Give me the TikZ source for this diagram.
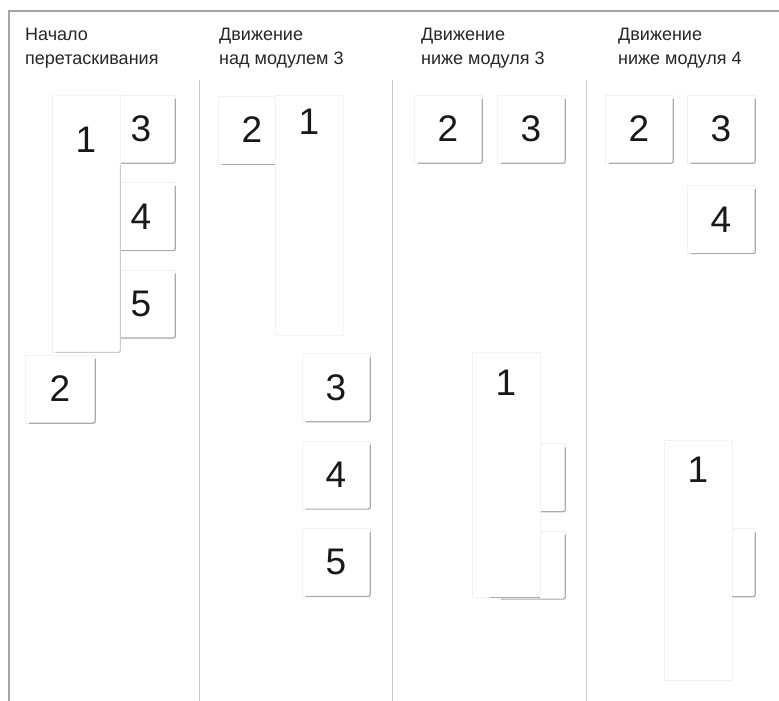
\documentclass[tikz,border=0pt]{standalone}
\usepackage{fontspec}
\setmainfont{Liberation Sans}
\usetikzlibrary{positioning}
\tikzset{
  schatten/.style = {draw=gray!65, line width=1.2pt, rounded corners=2pt},
  blass/.style    = {draw=gray!40, line width=1pt, rounded corners=2pt},
  modul/.style    = {draw=gray!10, fill=white, line width=0.4pt, inner sep=0pt,
                     minimum width=68pt, minimum height=68pt,
                     font=\fontsize{37}{40}\selectfont, text=black!90},
  zug/.style      = {draw=gray!15, densely dotted, fill=white, line width=0.6pt,
                     inner sep=0pt, minimum width=68pt},
  ziffer/.style   = {inner sep=0pt, font=\fontsize{37}{40}\selectfont, text=black!90},
  titel/.style    = {anchor=north west, align=left, inner sep=0pt,
                     font=\fontsize{18}{24}\selectfont, text=black!85},
  rahmen/.style   = {draw=gray!70, line width=1.8pt},
  trenn/.style    = {draw=gray!40, line width=0.8pt},
}
\begin{document}
\begin{tikzpicture}[x=1pt, y=-1pt, node distance=19pt]
  \useasboundingbox (0,0) rectangle (779,701);
  \draw[rahmen] (9,701) -- (9,11) -- (779,11);
  \foreach \x in {199,392,586} \draw[trenn] (\x,80) -- (\x,701);

  % titles
  \node[titel] (t1) at (25,28)  {Начало\\перетаскивания};
  \node[titel] (t2) at (219,28) {Движение\\над модулем 3};
  \node[titel] (t3) at (421,28) {Движение\\ниже модуля 3};
  \node[titel] (t4) at (618,28) {Движение\\ниже модуля 4};

  % column 1: drag starts
  \node[modul] (c1m3) at (141,129) {3};
  \node[modul, below=of c1m3] (c1m4) {4};
  \node[modul, below=of c1m4] (c1m5) {5};
  \foreach \m in {c1m3,c1m4,c1m5}
    \draw[schatten] ([xshift=4pt]\m.south west) -- (\m.south east) -- ([yshift=-4pt]\m.north east);
  \node[zug, minimum height=257pt] (c1m1) at (86,223.5) {};
  \draw[blass] ([xshift=4pt]c1m1.south west) -- (c1m1.south east) -- ([yshift=-70pt]c1m1.north east);
  \node[ziffer] (c1n1) at ([yshift=-45pt]c1m1.north) {1};
  \node[modul, minimum width=70pt] (c1m2) at (60,389) {2};
  \draw[schatten] ([xshift=4pt]c1m2.south west) -- (c1m2.south east) -- ([yshift=-4pt]c1m2.north east);

  % column 2: over module 3
  \node[modul] (c2m2) at (252,130) {2};
  \draw[schatten] ([xshift=4pt]c2m2.south west) -- (c2m2.south east);
  \node[zug, minimum height=240pt] (c2m1) at (309,215) {};
  \node[ziffer] (c2n1) at ([yshift=-27pt]c2m1.north) {1};
  \node[modul] (c2m3) at (336,387.5) {3};
  \node[modul, below=of c2m3] (c2m4) {4};
  \node[modul, below=of c2m4] (c2m5) {5};
  \foreach \m in {c2m3,c2m4,c2m5}
    \draw[schatten] ([xshift=4pt]\m.south west) -- (\m.south east) -- ([yshift=-4pt]\m.north east);

  % column 3: below module 3
  \node[modul] (c3m2) at (448,129) {2};
  \node[modul] (c3m3) at (531,129) {3};
  \node[modul] (c3m4) at (531,477.5) {4};
  \node[modul, below=of c3m4] (c3m5) {5};
  \foreach \m in {c3m2,c3m3,c3m4,c3m5}
    \draw[schatten] ([xshift=4pt]\m.south west) -- (\m.south east) -- ([yshift=-4pt]\m.north east);
  \node[zug, minimum height=245pt] (c3m1) at (506,474.5) {};
  \draw[schatten] ([xshift=18pt]c3m1.south west) -- (c3m1.south east);
  \node[ziffer] (c3n1) at ([yshift=-31pt]c3m1.north) {1};

  % column 4: below module 4
  \node[modul] (c4m2) at (639,129) {2};
  \node[modul] (c4m3) at (721,129) {3};
  \node[modul, below=22pt of c4m3] (c4m4) {4};
  \node[modul] (c4m5) at (721,562.5) {5};
  \foreach \m in {c4m2,c4m3,c4m4,c4m5}
    \draw[schatten] ([xshift=4pt]\m.south west) -- (\m.south east) -- ([yshift=-4pt]\m.north east);
  \node[zug, minimum height=240pt] (c4m1) at (698,560) {};
  \node[ziffer] (c4n1) at ([yshift=-30pt]c4m1.north) {1};
\end{tikzpicture}
\end{document}
